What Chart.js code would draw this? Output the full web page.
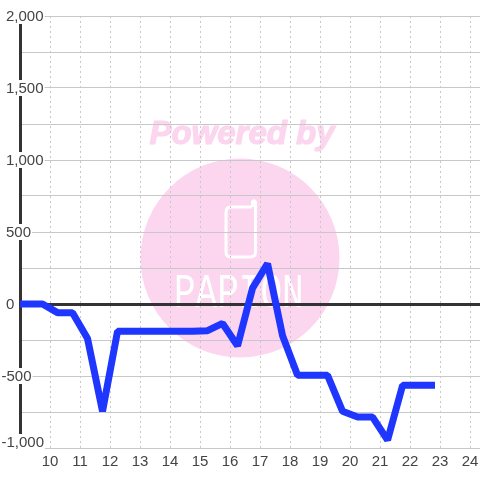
<!DOCTYPE html>
<html>
<head>
<meta charset="utf-8">
<style>
  html, body { margin: 0; padding: 0; background: #fff; }
  #wrap { width: 480px; height: 480px; }
</style>
<script src="https://cdn.jsdelivr.net/npm/chart.js@4/dist/chart.umd.min.js"></script>
</head>
<body>
<div id="wrap"><canvas id="chart" width="480" height="480"></canvas></div>
<script>
const hours = [8.75, 9.25, 9.75, 10.25, 10.75, 11.25, 11.75, 12.25, 14.75, 15.25, 15.75, 16.25, 16.75, 17.25, 17.75, 18.25, 18.75, 19.25, 19.75, 20.25, 20.75, 21.25, 21.75, 22.83]
const values = [0, 0, 0, -60, -60, -240, -745, -190, -190, -185, -135, -290, 110, 280, -220, -495, -495, -495, -745, -785, -785, -945, -565, -565]
const xTicks = [10, 11, 12, 13, 14, 15, 16, 17, 18, 19, 20, 21, 22, 23, 24]
const yTicks = [-1000, -750, -500, -250, 0, 250, 500, 750, 1000, 1250, 1500, 1750, 2000]
const yLabels = ['-1,000', '', '-500', '', '0', '', '500', '', '1,000', '', '1,500', '', '2,000']

const FONT = '15px "Liberation Sans"'
const INK = '#444444'
const GRID = '#c8c8c8'
const DARK = '#333333'
const PINK = '#fbd6ee'

// pink "Powered by" mark that sits behind the grid
const watermark = {
  id: 'watermark',
  beforeDraw(chart) {
    const ctx = chart.ctx
    ctx.save()
    ctx.fillStyle = PINK
    ctx.beginPath()
    ctx.arc(240, 258, 99.5, 0, Math.PI * 2)
    ctx.fill()

    ctx.font = 'italic bold 33px "Liberation Sans"'
    ctx.textAlign = 'center'
    ctx.textBaseline = 'alphabetic'
    ctx.strokeStyle = PINK
    ctx.lineWidth = 1.2
    ctx.lineJoin = 'round'
    ctx.fillText('Powered by', 242, 144)
    ctx.strokeText('Powered by', 242, 144)

    ctx.strokeStyle = '#ffffff'
    ctx.lineWidth = 3
    ctx.beginPath()
    ctx.moveTo(252, 207)
    ctx.lineTo(231, 207)
    ctx.quadraticCurveTo(226, 207, 226, 212)
    ctx.lineTo(226, 252)
    ctx.quadraticCurveTo(226, 257, 231, 257)
    ctx.lineTo(250, 257)
    ctx.quadraticCurveTo(255.5, 257, 255.5, 252)
    ctx.lineTo(255.5, 202)
    ctx.quadraticCurveTo(254, 199.5, 252.5, 202)
    ctx.lineTo(252.5, 207)
    ctx.stroke()

    ctx.fillStyle = '#ffffff'
    ctx.font = '36px "Liberation Mono"'
    ctx.textAlign = 'left'
    ctx.save()
    ctx.translate(174, 307)
    ctx.scale(1, 1.33)
    ctx.fillText('PAPION', 0, 0)
    ctx.restore()
    ctx.restore()
  }
}

// y labels sit on white plates that cut the axis and grid lines
const yLabelPlates = {
  id: 'yLabelPlates',
  afterDraw(chart) {
    const ctx = chart.ctx
    const y = chart.scales.y
    ctx.save()
    ctx.font = FONT
    ctx.textBaseline = 'middle'
    yTicks.forEach((v, i) => {
      const label = yLabels[i]
      if (!label) return
      const w = ctx.measureText(label).width
      const left = label[0] === '-' ? 1.5 : 6
      const py = y.getPixelForValue(v) + (v === y.min ? -6 : 0)
      ctx.fillStyle = '#ffffff'
      ctx.fillRect(left, py - 8, w + 1, 16)
      ctx.fillStyle = INK
      ctx.fillText(label, left, py + 1)
    })
    ctx.restore()
  }
}

new Chart(document.getElementById('chart'), {
  type: 'line',
  data: {
    labels: hours,
    datasets: [{
      data: hours.map((h, i) => ({ x: h, y: values[i] })),
      borderColor: '#1f36ff',
      borderWidth: 7,
      borderJoinStyle: 'bevel',
      borderCapStyle: 'butt',
      pointRadius: 0,
      tension: 0
    }]
  },
  plugins: [watermark, yLabelPlates],
  options: {
    responsive: false,
    animation: false,
    devicePixelRatio: 1,
    layout: { autoPadding: false, padding: { top: 16, left: 0, right: 0, bottom: 0 } },
    plugins: { legend: { display: false }, tooltip: { enabled: false } },
    scales: {
      x: {
        type: 'linear',
        min: 9,
        max: 24.33,
        afterFit: s => { s.height = 32; s.paddingLeft = 0; s.paddingRight = 0 },
        afterBuildTicks: s => { s.ticks = xTicks.map(value => ({ value })) },
        grid: { color: GRID, lineWidth: 1, drawTicks: false },
        border: { display: true, color: GRID, width: 1, dash: [2, 3] },
        ticks: {
          autoSkip: false,
          maxRotation: 0,
          padding: 5,
          color: INK,
          font: { family: 'Liberation Sans', size: 15 },
          callback: v => String(v)
        }
      },
      y: {
        type: 'linear',
        min: -1000,
        max: 2000,
        afterFit: s => { s.width = 20 },
        afterBuildTicks: s => { s.ticks = yTicks.map(value => ({ value })) },
        grid: {
          drawTicks: false,
          color: c => (c.tick.value === 0 ? DARK : GRID),
          lineWidth: c => (c.tick.value === 0 ? 3 : 1)
        },
        border: { display: true, color: DARK, width: 3 },
        ticks: { display: false }
      }
    }
  }
})
</script>
</body>
</html>
